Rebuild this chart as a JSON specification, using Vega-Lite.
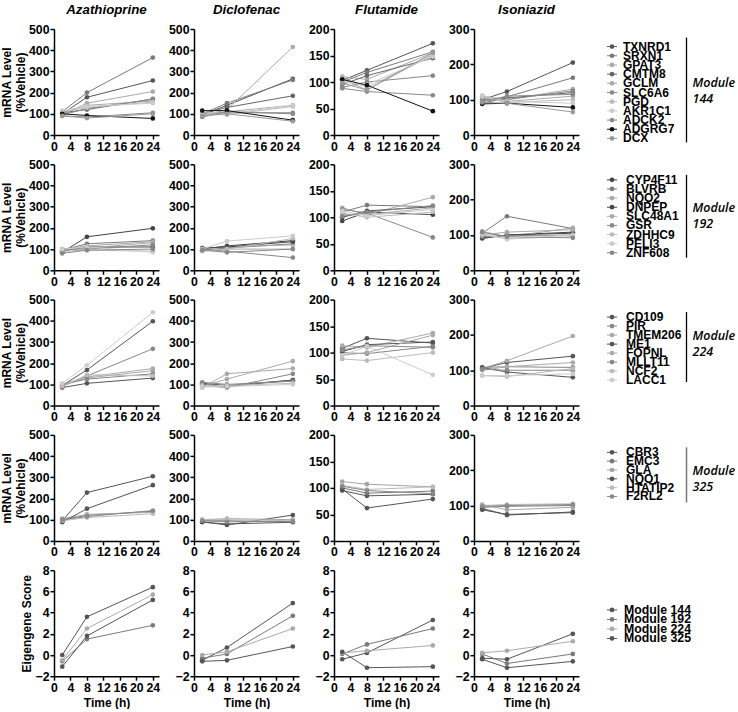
{
"$schema":"https://vega.github.io/schema/vega-lite/v6.json",
"padding":{"left":0,"top":2,"right":0,"bottom":0},
"datasets":{
"times":[{"k":"v2","t":2},{"k":"v8","t":8},{"k":"v24","t":24}],
"expr":[
{"p":"144","d":"Azathioprine","g":"TXNRD1","v2":100,"v8":178,"v24":257},
{"p":"144","d":"Azathioprine","g":"SRXN1","v2":110,"v8":200,"v24":365},
{"p":"144","d":"Azathioprine","g":"GPAT3","v2":95,"v8":150,"v24":205},
{"p":"144","d":"Azathioprine","g":"CMTM8","v2":105,"v8":120,"v24":170},
{"p":"144","d":"Azathioprine","g":"GCLM","v2":100,"v8":140,"v24":160},
{"p":"144","d":"Azathioprine","g":"SLC6A6","v2":95,"v8":125,"v24":168},
{"p":"144","d":"Azathioprine","g":"PGD","v2":110,"v8":130,"v24":155},
{"p":"144","d":"Azathioprine","g":"AKR1C1","v2":115,"v8":135,"v24":150},
{"p":"144","d":"Azathioprine","g":"ADCK2","v2":90,"v8":85,"v24":105},
{"p":"144","d":"Azathioprine","g":"ADGRG7","v2":100,"v8":92,"v24":78},
{"p":"144","d":"Azathioprine","g":"DCX","v2":90,"v8":80,"v24":100},
{"p":"144","d":"Diclofenac","g":"TXNRD1","v2":95,"v8":140,"v24":265},
{"p":"144","d":"Diclofenac","g":"SRXN1","v2":100,"v8":150,"v24":260},
{"p":"144","d":"Diclofenac","g":"GPAT3","v2":90,"v8":120,"v24":415},
{"p":"144","d":"Diclofenac","g":"CMTM8","v2":100,"v8":130,"v24":185},
{"p":"144","d":"Diclofenac","g":"GCLM","v2":95,"v8":110,"v24":140},
{"p":"144","d":"Diclofenac","g":"SLC6A6","v2":105,"v8":105,"v24":105},
{"p":"144","d":"Diclofenac","g":"PGD","v2":100,"v8":95,"v24":135},
{"p":"144","d":"Diclofenac","g":"AKR1C1","v2":110,"v8":100,"v24":140},
{"p":"144","d":"Diclofenac","g":"ADCK2","v2":85,"v8":110,"v24":100},
{"p":"144","d":"Diclofenac","g":"ADGRG7","v2":115,"v8":115,"v24":70},
{"p":"144","d":"Diclofenac","g":"DCX","v2":90,"v8":100,"v24":65},
{"p":"144","d":"Flutamide","g":"TXNRD1","v2":103,"v8":122,"v24":173},
{"p":"144","d":"Flutamide","g":"SRXN1","v2":100,"v8":118,"v24":157},
{"p":"144","d":"Flutamide","g":"GPAT3","v2":110,"v8":105,"v24":155},
{"p":"144","d":"Flutamide","g":"CMTM8","v2":95,"v8":112,"v24":145},
{"p":"144","d":"Flutamide","g":"GCLM","v2":105,"v8":85,"v24":152},
{"p":"144","d":"Flutamide","g":"SLC6A6","v2":90,"v8":100,"v24":112},
{"p":"144","d":"Flutamide","g":"PGD","v2":108,"v8":90,"v24":150},
{"p":"144","d":"Flutamide","g":"AKR1C1","v2":100,"v8":95,"v24":148},
{"p":"144","d":"Flutamide","g":"ADCK2","v2":88,"v8":82,"v24":75},
{"p":"144","d":"Flutamide","g":"ADGRG7","v2":105,"v8":94,"v24":45},
{"p":"144","d":"Flutamide","g":"DCX","v2":98,"v8":85,"v24":155},
{"p":"144","d":"Isoniazid","g":"TXNRD1","v2":100,"v8":123,"v24":205},
{"p":"144","d":"Isoniazid","g":"SRXN1","v2":95,"v8":108,"v24":162},
{"p":"144","d":"Isoniazid","g":"GPAT3","v2":110,"v8":100,"v24":130},
{"p":"144","d":"Isoniazid","g":"CMTM8","v2":90,"v8":105,"v24":120},
{"p":"144","d":"Isoniazid","g":"GCLM","v2":105,"v8":95,"v24":110},
{"p":"144","d":"Isoniazid","g":"SLC6A6","v2":100,"v8":100,"v24":125},
{"p":"144","d":"Isoniazid","g":"PGD","v2":108,"v8":92,"v24":100},
{"p":"144","d":"Isoniazid","g":"AKR1C1","v2":112,"v8":95,"v24":90},
{"p":"144","d":"Isoniazid","g":"ADCK2","v2":95,"v8":110,"v24":115},
{"p":"144","d":"Isoniazid","g":"ADGRG7","v2":88,"v8":90,"v24":78},
{"p":"144","d":"Isoniazid","g":"DCX","v2":92,"v8":90,"v24":65},
{"p":"192","d":"Azathioprine","g":"CYP4F11","v2":85,"v8":158,"v24":198},
{"p":"192","d":"Azathioprine","g":"BLVRB","v2":95,"v8":125,"v24":140},
{"p":"192","d":"Azathioprine","g":"NQO2","v2":100,"v8":115,"v24":135},
{"p":"192","d":"Azathioprine","g":"DNPEP","v2":90,"v8":110,"v24":110},
{"p":"192","d":"Azathioprine","g":"SLC48A1","v2":95,"v8":105,"v24":130},
{"p":"192","d":"Azathioprine","g":"GSR","v2":100,"v8":100,"v24":120},
{"p":"192","d":"Azathioprine","g":"ZDHHC9","v2":90,"v8":95,"v24":90},
{"p":"192","d":"Azathioprine","g":"PELI3","v2":100,"v8":110,"v24":85},
{"p":"192","d":"Azathioprine","g":"ZNF608","v2":80,"v8":95,"v24":100},
{"p":"192","d":"Diclofenac","g":"CYP4F11","v2":100,"v8":115,"v24":140},
{"p":"192","d":"Diclofenac","g":"BLVRB","v2":95,"v8":105,"v24":125},
{"p":"192","d":"Diclofenac","g":"NQO2","v2":100,"v8":110,"v24":120},
{"p":"192","d":"Diclofenac","g":"DNPEP","v2":105,"v8":110,"v24":135},
{"p":"192","d":"Diclofenac","g":"SLC48A1","v2":95,"v8":100,"v24":100},
{"p":"192","d":"Diclofenac","g":"GSR","v2":100,"v8":90,"v24":60},
{"p":"192","d":"Diclofenac","g":"ZDHHC9","v2":90,"v8":100,"v24":150},
{"p":"192","d":"Diclofenac","g":"PELI3","v2":100,"v8":138,"v24":162},
{"p":"192","d":"Diclofenac","g":"ZNF608","v2":95,"v8":85,"v24":100},
{"p":"192","d":"Flutamide","g":"CYP4F11","v2":93,"v8":110,"v24":105},
{"p":"192","d":"Flutamide","g":"BLVRB","v2":110,"v8":123,"v24":120},
{"p":"192","d":"Flutamide","g":"NQO2","v2":118,"v8":105,"v24":138},
{"p":"192","d":"Flutamide","g":"DNPEP","v2":100,"v8":112,"v24":120},
{"p":"192","d":"Flutamide","g":"SLC48A1","v2":105,"v8":105,"v24":118},
{"p":"192","d":"Flutamide","g":"GSR","v2":115,"v8":108,"v24":62},
{"p":"192","d":"Flutamide","g":"ZDHHC9","v2":108,"v8":100,"v24":110},
{"p":"192","d":"Flutamide","g":"PELI3","v2":112,"v8":103,"v24":115},
{"p":"192","d":"Flutamide","g":"ZNF608","v2":102,"v8":110,"v24":122},
{"p":"192","d":"Isoniazid","g":"CYP4F11","v2":90,"v8":100,"v24":108},
{"p":"192","d":"Isoniazid","g":"BLVRB","v2":105,"v8":153,"v24":118},
{"p":"192","d":"Isoniazid","g":"NQO2","v2":110,"v8":95,"v24":120},
{"p":"192","d":"Isoniazid","g":"DNPEP","v2":92,"v8":100,"v24":105},
{"p":"192","d":"Isoniazid","g":"SLC48A1","v2":100,"v8":108,"v24":115},
{"p":"192","d":"Isoniazid","g":"GSR","v2":95,"v8":98,"v24":100},
{"p":"192","d":"Isoniazid","g":"ZDHHC9","v2":100,"v8":90,"v24":95},
{"p":"192","d":"Isoniazid","g":"PELI3","v2":105,"v8":88,"v24":100},
{"p":"192","d":"Isoniazid","g":"ZNF608","v2":108,"v8":95,"v24":92},
{"p":"224","d":"Azathioprine","g":"CD109","v2":95,"v8":168,"v24":398},
{"p":"224","d":"Azathioprine","g":"PIR","v2":90,"v8":140,"v24":268},
{"p":"224","d":"Azathioprine","g":"TMEM206","v2":100,"v8":135,"v24":175},
{"p":"224","d":"Azathioprine","g":"ME1","v2":85,"v8":105,"v24":130},
{"p":"224","d":"Azathioprine","g":"FOPNL","v2":95,"v8":130,"v24":165},
{"p":"224","d":"Azathioprine","g":"MLLT11","v2":100,"v8":125,"v24":150},
{"p":"224","d":"Azathioprine","g":"NCF2","v2":90,"v8":145,"v24":140},
{"p":"224","d":"Azathioprine","g":"LACC1","v2":105,"v8":190,"v24":440},
{"p":"224","d":"Diclofenac","g":"CD109","v2":105,"v8":95,"v24":120},
{"p":"224","d":"Diclofenac","g":"PIR","v2":95,"v8":85,"v24":150},
{"p":"224","d":"Diclofenac","g":"TMEM206","v2":90,"v8":125,"v24":210},
{"p":"224","d":"Diclofenac","g":"ME1","v2":100,"v8":90,"v24":120},
{"p":"224","d":"Diclofenac","g":"FOPNL","v2":85,"v8":150,"v24":175},
{"p":"224","d":"Diclofenac","g":"MLLT11","v2":110,"v8":100,"v24":115},
{"p":"224","d":"Diclofenac","g":"NCF2","v2":95,"v8":95,"v24":105},
{"p":"224","d":"Diclofenac","g":"LACC1","v2":88,"v8":90,"v24":100},
{"p":"224","d":"Flutamide","g":"CD109","v2":108,"v8":127,"v24":118},
{"p":"224","d":"Flutamide","g":"PIR","v2":100,"v8":98,"v24":112},
{"p":"224","d":"Flutamide","g":"TMEM206","v2":113,"v8":110,"v24":137},
{"p":"224","d":"Flutamide","g":"ME1","v2":102,"v8":115,"v24":120},
{"p":"224","d":"Flutamide","g":"FOPNL","v2":95,"v8":100,"v24":133},
{"p":"224","d":"Flutamide","g":"MLLT11","v2":105,"v8":113,"v24":110},
{"p":"224","d":"Flutamide","g":"NCF2","v2":88,"v8":85,"v24":100},
{"p":"224","d":"Flutamide","g":"LACC1","v2":95,"v8":112,"v24":58},
{"p":"224","d":"Isoniazid","g":"CD109","v2":105,"v8":122,"v24":140},
{"p":"224","d":"Isoniazid","g":"PIR","v2":108,"v8":110,"v24":108},
{"p":"224","d":"Isoniazid","g":"TMEM206","v2":105,"v8":127,"v24":197},
{"p":"224","d":"Isoniazid","g":"ME1","v2":108,"v8":95,"v24":80},
{"p":"224","d":"Isoniazid","g":"FOPNL","v2":100,"v8":110,"v24":122},
{"p":"224","d":"Isoniazid","g":"MLLT11","v2":103,"v8":100,"v24":100},
{"p":"224","d":"Isoniazid","g":"NCF2","v2":85,"v8":82,"v24":105},
{"p":"224","d":"Isoniazid","g":"LACC1","v2":85,"v8":85,"v24":90},
{"p":"325","d":"Azathioprine","g":"CBR3","v2":95,"v8":228,"v24":305},
{"p":"325","d":"Azathioprine","g":"EMC3","v2":100,"v8":120,"v24":140},
{"p":"325","d":"Azathioprine","g":"GLA","v2":105,"v8":125,"v24":135},
{"p":"325","d":"Azathioprine","g":"NQO1","v2":88,"v8":152,"v24":263},
{"p":"325","d":"Azathioprine","g":"HTATIP2","v2":95,"v8":110,"v24":128},
{"p":"325","d":"Azathioprine","g":"F2RL2","v2":100,"v8":115,"v24":143},
{"p":"325","d":"Diclofenac","g":"CBR3","v2":90,"v8":75,"v24":122},
{"p":"325","d":"Diclofenac","g":"EMC3","v2":95,"v8":95,"v24":90},
{"p":"325","d":"Diclofenac","g":"GLA","v2":100,"v8":105,"v24":100},
{"p":"325","d":"Diclofenac","g":"NQO1","v2":88,"v8":80,"v24":88},
{"p":"325","d":"Diclofenac","g":"HTATIP2","v2":100,"v8":100,"v24":95},
{"p":"325","d":"Diclofenac","g":"F2RL2","v2":95,"v8":90,"v24":92},
{"p":"325","d":"Flutamide","g":"CBR3","v2":95,"v8":85,"v24":88},
{"p":"325","d":"Flutamide","g":"EMC3","v2":100,"v8":90,"v24":94},
{"p":"325","d":"Flutamide","g":"GLA","v2":112,"v8":107,"v24":102},
{"p":"325","d":"Flutamide","g":"NQO1","v2":98,"v8":62,"v24":79},
{"p":"325","d":"Flutamide","g":"HTATIP2","v2":105,"v8":97,"v24":102},
{"p":"325","d":"Flutamide","g":"F2RL2","v2":103,"v8":95,"v24":89},
{"p":"325","d":"Isoniazid","g":"CBR3","v2":88,"v8":75,"v24":80},
{"p":"325","d":"Isoniazid","g":"EMC3","v2":95,"v8":98,"v24":100},
{"p":"325","d":"Isoniazid","g":"GLA","v2":103,"v8":88,"v24":95},
{"p":"325","d":"Isoniazid","g":"NQO1","v2":92,"v8":73,"v24":82},
{"p":"325","d":"Isoniazid","g":"HTATIP2","v2":100,"v8":103,"v24":105},
{"p":"325","d":"Isoniazid","g":"F2RL2","v2":98,"v8":100,"v24":103},
{"p":"E","d":"Azathioprine","g":"Module 144","v2":0,"v8":3.6,"v24":6.4},
{"p":"E","d":"Azathioprine","g":"Module 192","v2":-0.6,"v8":1.5,"v24":2.8},
{"p":"E","d":"Azathioprine","g":"Module 224","v2":-0.5,"v8":2.5,"v24":5.7},
{"p":"E","d":"Azathioprine","g":"Module 325","v2":-1.1,"v8":1.8,"v24":5.2},
{"p":"E","d":"Diclofenac","g":"Module 144","v2":-0.5,"v8":0.7,"v24":4.9},
{"p":"E","d":"Diclofenac","g":"Module 192","v2":-0.3,"v8":0.1,"v24":3.7},
{"p":"E","d":"Diclofenac","g":"Module 224","v2":0.0,"v8":0.3,"v24":2.5},
{"p":"E","d":"Diclofenac","g":"Module 325","v2":-0.6,"v8":-0.5,"v24":0.8},
{"p":"E","d":"Flutamide","g":"Module 144","v2":-0.4,"v8":0.2,"v24":3.3},
{"p":"E","d":"Flutamide","g":"Module 192","v2":0.1,"v8":1.0,"v24":2.5},
{"p":"E","d":"Flutamide","g":"Module 224","v2":0.2,"v8":0.4,"v24":0.9},
{"p":"E","d":"Flutamide","g":"Module 325","v2":0.3,"v8":-1.2,"v24":-1.1},
{"p":"E","d":"Isoniazid","g":"Module 144","v2":-0.3,"v8":-0.4,"v24":2.0},
{"p":"E","d":"Isoniazid","g":"Module 192","v2":0.1,"v8":-0.8,"v24":0.1},
{"p":"E","d":"Isoniazid","g":"Module 224","v2":0.2,"v8":0.4,"v24":1.3},
{"p":"E","d":"Isoniazid","g":"Module 325","v2":-0.4,"v8":-1.2,"v24":-0.6}
]},
"data":{"name":"expr"},
"transform":[
{"fold":["v2","v8","v24"],"as":["k","v"]},
{"lookup":"k","from":{"data":{"name":"times"},"key":"k","fields":["t"]}}
],
"columns":5,
"spacing":{"row":29.3,"column":35},
"bounds":"flush",
"concat":[
{"width":105,"height":106,"title":"Azathioprine","transform":[{"filter":"datum.p=='144' && datum.d=='Azathioprine'"}],
"encoding":{"x":{"field":"t","type":"quantitative","scale":{"domain":[0,25.5],"nice":false},"axis":{"values":[0,4,8,12,16,20,24],"title":null}},
"y":{"field":"v","type":"quantitative","scale":{"domain":[0,500],"nice":false},"axis":{"values":[0,100,200,300,400,500],"title":["mRNA Level","(%Vehicle)"]}},
"color":{"field":"g","type":"nominal"}},
"layer":[{"mark":"line"},{"mark":"point"},
{"data":{"values":[{"u":1}]},"mark":{"type":"rule","strokeWidth":1.6},"encoding":{"x":{"datum":0},"x2":{"datum":26},"y":{"datum":566},"color":{"value":"#000000"}}}]},
{"width":105,"height":106,"title":"Diclofenac","transform":[{"filter":"datum.p=='144' && datum.d=='Diclofenac'"}],
"encoding":{"x":{"field":"t","type":"quantitative","scale":{"domain":[0,25.5],"nice":false},"axis":{"values":[0,4,8,12,16,20,24],"title":null}},
"y":{"field":"v","type":"quantitative","scale":{"domain":[0,500],"nice":false},"axis":{"values":[0,100,200,300,400,500],"title":null}},
"color":{"field":"g","type":"nominal"}},
"layer":[{"mark":"line"},{"mark":"point"},
{"data":{"values":[{"u":1}]},"mark":{"type":"rule","strokeWidth":1.6},"encoding":{"x":{"datum":0},"x2":{"datum":26},"y":{"datum":566},"color":{"value":"#000000"}}}]},
{"width":105,"height":106,"title":"Flutamide","transform":[{"filter":"datum.p=='144' && datum.d=='Flutamide'"}],
"encoding":{"x":{"field":"t","type":"quantitative","scale":{"domain":[0,25.5],"nice":false},"axis":{"values":[0,4,8,12,16,20,24],"title":null}},
"y":{"field":"v","type":"quantitative","scale":{"domain":[0,200],"nice":false},"axis":{"values":[0,50,100,150,200],"title":null}},
"color":{"field":"g","type":"nominal"}},
"layer":[{"mark":"line"},{"mark":"point"},
{"data":{"values":[{"u":1}]},"mark":{"type":"rule","strokeWidth":1.6},"encoding":{"x":{"datum":0},"x2":{"datum":26},"y":{"datum":226.4},"color":{"value":"#000000"}}}]},
{"width":105,"height":106,"title":"Isoniazid","transform":[{"filter":"datum.p=='144' && datum.d=='Isoniazid'"}],
"encoding":{"x":{"field":"t","type":"quantitative","scale":{"domain":[0,25.5],"nice":false},"axis":{"values":[0,4,8,12,16,20,24],"title":null}},
"y":{"field":"v","type":"quantitative","scale":{"domain":[0,300],"nice":false},"axis":{"values":[0,100,200,300],"title":null}},
"color":{"field":"g","type":"nominal"}},
"layer":[{"mark":"line"},{"mark":"point"},
{"data":{"values":[{"u":1}]},"mark":{"type":"rule","strokeWidth":1.6},"encoding":{"x":{"datum":0},"x2":{"datum":26},"y":{"datum":339.6},"color":{"value":"#808080"}}}]},
{"width":124,"height":106,"transform":[{"filter":"datum.p=='144' && datum.d=='Azathioprine' && datum.t==2"}],
"layer":[
{"mark":{"type":"rule","strokeWidth":1},"encoding":{"x":{"datum":-0.7,"type":"quantitative","scale":{"domain":[0,12.4],"nice":false,"zero":false},"axis":null},"x2":{"datum":0.3},"y":{"field":"g","type":"ordinal","scale":{"type":"point","domain":["TXNRD1","SRXN1","GPAT3","CMTM8","GCLM","SLC6A6","PGD","AKR1C1","ADCK2","ADGRG7","DCX"],"range":[13,114]},"axis":null},"color":{"field":"g","type":"nominal"}}},
{"mark":"point","encoding":{"x":{"datum":-0.2,"type":"quantitative","scale":{"domain":[0,12.4],"nice":false,"zero":false},"axis":null},"y":{"field":"g","type":"ordinal","scale":{"type":"point","domain":["TXNRD1","SRXN1","GPAT3","CMTM8","GCLM","SLC6A6","PGD","AKR1C1","ADCK2","ADGRG7","DCX"],"range":[13,114]},"axis":null},"color":{"field":"g","type":"nominal"}}},
{"mark":{"type":"text","align":"left","baseline":"middle","font":"Liberation Sans","fontSize":12,"fontWeight":"bold","color":"#000000"},"encoding":{"x":{"datum":0.9,"type":"quantitative","scale":{"domain":[0,12.4],"nice":false,"zero":false},"axis":null},"y":{"field":"g","type":"ordinal","scale":{"type":"point","domain":["TXNRD1","SRXN1","GPAT3","CMTM8","GCLM","SLC6A6","PGD","AKR1C1","ADCK2","ADGRG7","DCX"],"range":[13,114]},"axis":null},"text":{"field":"g"}}},
{"transform":[{"filter":"datum.g=='TXNRD1'"}],"mark":{"type":"rule","color":"#000000","strokeWidth":1.3,"yOffset":-9,"y2Offset":4},"encoding":{"x":{"datum":7.25,"type":"quantitative","scale":{"domain":[0,12.4],"nice":false,"zero":false},"axis":null},"y":{"field":"g","type":"ordinal","scale":{"type":"point","domain":["TXNRD1","SRXN1","GPAT3","CMTM8","GCLM","SLC6A6","PGD","AKR1C1","ADCK2","ADGRG7","DCX"],"range":[13,114]},"axis":null},"y2":{"datum":"DCX"}}},
{"transform":[{"filter":"datum.g=='TXNRD1'"}],"mark":{"type":"text","align":"left","baseline":"middle","font":"Open Sans","fontStyle":"italic","fontWeight":600,"fontSize":12.5,"lineHeight":16,"color":"#000000","dy":-9.5},"encoding":{"x":{"datum":7.85,"type":"quantitative","scale":{"domain":[0,12.4],"nice":false,"zero":false},"axis":null},"y":{"datum":"SLC6A6","type":"ordinal","scale":{"type":"point","domain":["TXNRD1","SRXN1","GPAT3","CMTM8","GCLM","SLC6A6","PGD","AKR1C1","ADCK2","ADGRG7","DCX"],"range":[13,114]},"axis":null},"text":{"value":["Module","144"]}}}
]},

{"width":105,"height":106,"transform":[{"filter":"datum.p=='192' && datum.d=='Azathioprine'"}],
"encoding":{"x":{"field":"t","type":"quantitative","scale":{"domain":[0,25.5],"nice":false},"axis":{"values":[0,4,8,12,16,20,24],"title":null}},
"y":{"field":"v","type":"quantitative","scale":{"domain":[0,500],"nice":false},"axis":{"values":[0,100,200,300,400,500],"title":["mRNA Level","(%Vehicle)"]}},
"color":{"field":"g","type":"nominal"}},
"layer":[{"mark":"line"},{"mark":"point"}]},
{"width":105,"height":106,"transform":[{"filter":"datum.p=='192' && datum.d=='Diclofenac'"}],
"encoding":{"x":{"field":"t","type":"quantitative","scale":{"domain":[0,25.5],"nice":false},"axis":{"values":[0,4,8,12,16,20,24],"title":null}},
"y":{"field":"v","type":"quantitative","scale":{"domain":[0,500],"nice":false},"axis":{"values":[0,100,200,300,400,500],"title":null}},
"color":{"field":"g","type":"nominal"}},
"layer":[{"mark":"line"},{"mark":"point"}]},
{"width":105,"height":106,"transform":[{"filter":"datum.p=='192' && datum.d=='Flutamide'"}],
"encoding":{"x":{"field":"t","type":"quantitative","scale":{"domain":[0,25.5],"nice":false},"axis":{"values":[0,4,8,12,16,20,24],"title":null}},
"y":{"field":"v","type":"quantitative","scale":{"domain":[0,200],"nice":false},"axis":{"values":[0,50,100,150,200],"title":null}},
"color":{"field":"g","type":"nominal"}},
"layer":[{"mark":"line"},{"mark":"point"}]},
{"width":105,"height":106,"transform":[{"filter":"datum.p=='192' && datum.d=='Isoniazid'"}],
"encoding":{"x":{"field":"t","type":"quantitative","scale":{"domain":[0,25.5],"nice":false},"axis":{"values":[0,4,8,12,16,20,24],"title":null}},
"y":{"field":"v","type":"quantitative","scale":{"domain":[0,300],"nice":false},"axis":{"values":[0,100,200,300],"title":null}},
"color":{"field":"g","type":"nominal"}},
"layer":[{"mark":"line"},{"mark":"point"}]},
{"width":124,"height":106,"transform":[{"filter":"datum.p=='192' && datum.d=='Azathioprine' && datum.t==2"}],
"layer":[
{"mark":{"type":"rule","strokeWidth":1},"encoding":{"x":{"datum":-0.7,"type":"quantitative","scale":{"domain":[0,12.4],"nice":false,"zero":false},"axis":null},"x2":{"datum":0.3},"y":{"field":"g","type":"ordinal","scale":{"type":"point","domain":["CYP4F11","BLVRB","NQO2","DNPEP","SLC48A1","GSR","ZDHHC9","PELI3","ZNF608"],"range":[11,93]},"axis":null},"color":{"field":"g","type":"nominal"}}},
{"mark":"point","encoding":{"x":{"datum":-0.2,"type":"quantitative","scale":{"domain":[0,12.4],"nice":false,"zero":false},"axis":null},"y":{"field":"g","type":"ordinal","scale":{"type":"point","domain":["CYP4F11","BLVRB","NQO2","DNPEP","SLC48A1","GSR","ZDHHC9","PELI3","ZNF608"],"range":[11,93]},"axis":null},"color":{"field":"g","type":"nominal"}}},
{"mark":{"type":"text","align":"left","baseline":"middle","font":"Liberation Sans","fontSize":12,"fontWeight":"bold","color":"#000000"},"encoding":{"x":{"datum":1.2,"type":"quantitative","scale":{"domain":[0,12.4],"nice":false,"zero":false},"axis":null},"y":{"field":"g","type":"ordinal","scale":{"type":"point","domain":["CYP4F11","BLVRB","NQO2","DNPEP","SLC48A1","GSR","ZDHHC9","PELI3","ZNF608"],"range":[11,93]},"axis":null},"text":{"field":"g"}}},
{"transform":[{"filter":"datum.g=='CYP4F11'"}],"mark":{"type":"rule","color":"#000000","strokeWidth":1.3,"yOffset":-5,"y2Offset":5},"encoding":{"x":{"datum":7.25,"type":"quantitative","scale":{"domain":[0,12.4],"nice":false,"zero":false},"axis":null},"y":{"field":"g","type":"ordinal","scale":{"type":"point","domain":["CYP4F11","BLVRB","NQO2","DNPEP","SLC48A1","GSR","ZDHHC9","PELI3","ZNF608"],"range":[11,93]},"axis":null},"y2":{"datum":"ZNF608"}}},
{"transform":[{"filter":"datum.g=='CYP4F11'"}],"mark":{"type":"text","align":"left","baseline":"middle","font":"Open Sans","fontStyle":"italic","fontWeight":600,"fontSize":12.5,"lineHeight":16,"color":"#000000","dy":-8},"encoding":{"x":{"datum":7.85,"type":"quantitative","scale":{"domain":[0,12.4],"nice":false,"zero":false},"axis":null},"y":{"datum":"SLC48A1","type":"ordinal","scale":{"type":"point","domain":["CYP4F11","BLVRB","NQO2","DNPEP","SLC48A1","GSR","ZDHHC9","PELI3","ZNF608"],"range":[11,93]},"axis":null},"text":{"value":["Module","192"]}}}
]},

{"width":105,"height":106,"transform":[{"filter":"datum.p=='224' && datum.d=='Azathioprine'"}],
"encoding":{"x":{"field":"t","type":"quantitative","scale":{"domain":[0,25.5],"nice":false},"axis":{"values":[0,4,8,12,16,20,24],"title":null}},
"y":{"field":"v","type":"quantitative","scale":{"domain":[0,500],"nice":false},"axis":{"values":[0,100,200,300,400,500],"title":["mRNA Level","(%Vehicle)"]}},
"color":{"field":"g","type":"nominal"}},
"layer":[{"mark":"line"},{"mark":"point"}]},
{"width":105,"height":106,"transform":[{"filter":"datum.p=='224' && datum.d=='Diclofenac'"}],
"encoding":{"x":{"field":"t","type":"quantitative","scale":{"domain":[0,25.5],"nice":false},"axis":{"values":[0,4,8,12,16,20,24],"title":null}},
"y":{"field":"v","type":"quantitative","scale":{"domain":[0,500],"nice":false},"axis":{"values":[0,100,200,300,400,500],"title":null}},
"color":{"field":"g","type":"nominal"}},
"layer":[{"mark":"line"},{"mark":"point"}]},
{"width":105,"height":106,"transform":[{"filter":"datum.p=='224' && datum.d=='Flutamide'"}],
"encoding":{"x":{"field":"t","type":"quantitative","scale":{"domain":[0,25.5],"nice":false},"axis":{"values":[0,4,8,12,16,20,24],"title":null}},
"y":{"field":"v","type":"quantitative","scale":{"domain":[0,200],"nice":false},"axis":{"values":[0,50,100,150,200],"title":null}},
"color":{"field":"g","type":"nominal"}},
"layer":[{"mark":"line"},{"mark":"point"}]},
{"width":105,"height":106,"transform":[{"filter":"datum.p=='224' && datum.d=='Isoniazid'"}],
"encoding":{"x":{"field":"t","type":"quantitative","scale":{"domain":[0,25.5],"nice":false},"axis":{"values":[0,4,8,12,16,20,24],"title":null}},
"y":{"field":"v","type":"quantitative","scale":{"domain":[0,300],"nice":false},"axis":{"values":[0,100,200,300],"title":null}},
"color":{"field":"g","type":"nominal"}},
"layer":[{"mark":"line"},{"mark":"point"}]},
{"width":124,"height":106,"transform":[{"filter":"datum.p=='224' && datum.d=='Azathioprine' && datum.t==2"}],
"layer":[
{"mark":{"type":"rule","strokeWidth":1},"encoding":{"x":{"datum":-0.7,"type":"quantitative","scale":{"domain":[0,12.4],"nice":false,"zero":false},"axis":null},"x2":{"datum":0.3},"y":{"field":"g","type":"ordinal","scale":{"type":"point","domain":["CD109","PIR","TMEM206","ME1","FOPNL","MLLT11","NCF2","LACC1"],"range":[13,85]},"axis":null},"color":{"field":"g","type":"nominal"}}},
{"mark":"point","encoding":{"x":{"datum":-0.2,"type":"quantitative","scale":{"domain":[0,12.4],"nice":false,"zero":false},"axis":null},"y":{"field":"g","type":"ordinal","scale":{"type":"point","domain":["CD109","PIR","TMEM206","ME1","FOPNL","MLLT11","NCF2","LACC1"],"range":[13,85]},"axis":null},"color":{"field":"g","type":"nominal"}}},
{"mark":{"type":"text","align":"left","baseline":"middle","font":"Liberation Sans","fontSize":12,"fontWeight":"bold","color":"#000000"},"encoding":{"x":{"datum":1.2,"type":"quantitative","scale":{"domain":[0,12.4],"nice":false,"zero":false},"axis":null},"y":{"field":"g","type":"ordinal","scale":{"type":"point","domain":["CD109","PIR","TMEM206","ME1","FOPNL","MLLT11","NCF2","LACC1"],"range":[13,85]},"axis":null},"text":{"field":"g"}}},
{"transform":[{"filter":"datum.g=='CD109'"}],"mark":{"type":"rule","color":"#000000","strokeWidth":1.3,"yOffset":-5,"y2Offset":2},"encoding":{"x":{"datum":7.25,"type":"quantitative","scale":{"domain":[0,12.4],"nice":false,"zero":false},"axis":null},"y":{"field":"g","type":"ordinal","scale":{"type":"point","domain":["CD109","PIR","TMEM206","ME1","FOPNL","MLLT11","NCF2","LACC1"],"range":[13,85]},"axis":null},"y2":{"datum":"LACC1"}}},
{"transform":[{"filter":"datum.g=='CD109'"}],"mark":{"type":"text","align":"left","baseline":"middle","font":"Open Sans","fontStyle":"italic","fontWeight":600,"fontSize":12.5,"lineHeight":16,"color":"#000000","dy":-8},"encoding":{"x":{"datum":7.85,"type":"quantitative","scale":{"domain":[0,12.4],"nice":false,"zero":false},"axis":null},"y":{"datum":"ME1","type":"ordinal","scale":{"type":"point","domain":["CD109","PIR","TMEM206","ME1","FOPNL","MLLT11","NCF2","LACC1"],"range":[13,85]},"axis":null},"text":{"value":["Module","224"]}}}
]},

{"width":105,"height":106,"transform":[{"filter":"datum.p=='325' && datum.d=='Azathioprine'"}],
"encoding":{"x":{"field":"t","type":"quantitative","scale":{"domain":[0,25.5],"nice":false},"axis":{"values":[0,4,8,12,16,20,24],"title":null}},
"y":{"field":"v","type":"quantitative","scale":{"domain":[0,500],"nice":false},"axis":{"values":[0,100,200,300,400,500],"title":["mRNA Level","(%Vehicle)"]}},
"color":{"field":"g","type":"nominal"}},
"layer":[{"mark":"line"},{"mark":"point"}]},
{"width":105,"height":106,"transform":[{"filter":"datum.p=='325' && datum.d=='Diclofenac'"}],
"encoding":{"x":{"field":"t","type":"quantitative","scale":{"domain":[0,25.5],"nice":false},"axis":{"values":[0,4,8,12,16,20,24],"title":null}},
"y":{"field":"v","type":"quantitative","scale":{"domain":[0,500],"nice":false},"axis":{"values":[0,100,200,300,400,500],"title":null}},
"color":{"field":"g","type":"nominal"}},
"layer":[{"mark":"line"},{"mark":"point"}]},
{"width":105,"height":106,"transform":[{"filter":"datum.p=='325' && datum.d=='Flutamide'"}],
"encoding":{"x":{"field":"t","type":"quantitative","scale":{"domain":[0,25.5],"nice":false},"axis":{"values":[0,4,8,12,16,20,24],"title":null}},
"y":{"field":"v","type":"quantitative","scale":{"domain":[0,200],"nice":false},"axis":{"values":[0,50,100,150,200],"title":null}},
"color":{"field":"g","type":"nominal"}},
"layer":[{"mark":"line"},{"mark":"point"}]},
{"width":105,"height":106,"transform":[{"filter":"datum.p=='325' && datum.d=='Isoniazid'"}],
"encoding":{"x":{"field":"t","type":"quantitative","scale":{"domain":[0,25.5],"nice":false},"axis":{"values":[0,4,8,12,16,20,24],"title":null}},
"y":{"field":"v","type":"quantitative","scale":{"domain":[0,300],"nice":false},"axis":{"values":[0,100,200,300],"title":null}},
"color":{"field":"g","type":"nominal"}},
"layer":[{"mark":"line"},{"mark":"point"}]},
{"width":124,"height":106,"transform":[{"filter":"datum.p=='325' && datum.d=='Azathioprine' && datum.t==2"}],
"layer":[
{"mark":{"type":"rule","strokeWidth":1},"encoding":{"x":{"datum":-0.7,"type":"quantitative","scale":{"domain":[0,12.4],"nice":false,"zero":false},"axis":null},"x2":{"datum":0.3},"y":{"field":"g","type":"ordinal","scale":{"type":"point","domain":["CBR3","EMC3","GLA","NQO1","HTATIP2","F2RL2"],"range":[13,66]},"axis":null},"color":{"field":"g","type":"nominal"}}},
{"mark":"point","encoding":{"x":{"datum":-0.2,"type":"quantitative","scale":{"domain":[0,12.4],"nice":false,"zero":false},"axis":null},"y":{"field":"g","type":"ordinal","scale":{"type":"point","domain":["CBR3","EMC3","GLA","NQO1","HTATIP2","F2RL2"],"range":[13,66]},"axis":null},"color":{"field":"g","type":"nominal"}}},
{"mark":{"type":"text","align":"left","baseline":"middle","font":"Liberation Sans","fontSize":12,"fontWeight":"bold","color":"#000000"},"encoding":{"x":{"datum":1.2,"type":"quantitative","scale":{"domain":[0,12.4],"nice":false,"zero":false},"axis":null},"y":{"field":"g","type":"ordinal","scale":{"type":"point","domain":["CBR3","EMC3","GLA","NQO1","HTATIP2","F2RL2"],"range":[13,66]},"axis":null},"text":{"field":"g"}}},
{"transform":[{"filter":"datum.g=='CBR3'"}],"mark":{"type":"rule","color":"#777777","strokeWidth":1.5,"yOffset":-5,"y2Offset":6},"encoding":{"x":{"datum":7.25,"type":"quantitative","scale":{"domain":[0,12.4],"nice":false,"zero":false},"axis":null},"y":{"field":"g","type":"ordinal","scale":{"type":"point","domain":["CBR3","EMC3","GLA","NQO1","HTATIP2","F2RL2"],"range":[13,66]},"axis":null},"y2":{"datum":"F2RL2"}}},
{"transform":[{"filter":"datum.g=='CBR3'"}],"mark":{"type":"text","align":"left","baseline":"middle","font":"Open Sans","fontStyle":"italic","fontWeight":600,"fontSize":12.5,"lineHeight":16,"color":"#000000","dy":-8},"encoding":{"x":{"datum":7.85,"type":"quantitative","scale":{"domain":[0,12.4],"nice":false,"zero":false},"axis":null},"y":{"datum":"NQO1","type":"ordinal","scale":{"type":"point","domain":["CBR3","EMC3","GLA","NQO1","HTATIP2","F2RL2"],"range":[13,66]},"axis":null},"text":{"value":["Module","325"]}}}
]},

{"width":105,"height":106,"transform":[{"filter":"datum.p=='E' && datum.d=='Azathioprine'"}],
"encoding":{"x":{"field":"t","type":"quantitative","scale":{"domain":[0,25.5],"nice":false},"axis":{"values":[0,4,8,12,16,20,24],"title":"Time (h)"}},
"y":{"field":"v","type":"quantitative","scale":{"domain":[-2,8],"nice":false,"zero":false},"axis":{"values":[-2,0,2,4,6,8],"title":"Eigengene Score"}},
"color":{"field":"g","type":"nominal"}},
"layer":[{"mark":"line"},{"mark":"point"}]},
{"width":105,"height":106,"transform":[{"filter":"datum.p=='E' && datum.d=='Diclofenac'"}],
"encoding":{"x":{"field":"t","type":"quantitative","scale":{"domain":[0,25.5],"nice":false},"axis":{"values":[0,4,8,12,16,20,24],"title":"Time (h)"}},
"y":{"field":"v","type":"quantitative","scale":{"domain":[-2,8],"nice":false,"zero":false},"axis":{"values":[-2,0,2,4,6,8],"title":null}},
"color":{"field":"g","type":"nominal"}},
"layer":[{"mark":"line"},{"mark":"point"}]},
{"width":105,"height":106,"transform":[{"filter":"datum.p=='E' && datum.d=='Flutamide'"}],
"encoding":{"x":{"field":"t","type":"quantitative","scale":{"domain":[0,25.5],"nice":false},"axis":{"values":[0,4,8,12,16,20,24],"title":"Time (h)"}},
"y":{"field":"v","type":"quantitative","scale":{"domain":[-2,8],"nice":false,"zero":false},"axis":{"values":[-2,0,2,4,6,8],"title":null}},
"color":{"field":"g","type":"nominal"}},
"layer":[{"mark":"line"},{"mark":"point"}]},
{"width":105,"height":106,"transform":[{"filter":"datum.p=='E' && datum.d=='Isoniazid'"}],
"encoding":{"x":{"field":"t","type":"quantitative","scale":{"domain":[0,25.5],"nice":false},"axis":{"values":[0,4,8,12,16,20,24],"title":"Time (h)"}},
"y":{"field":"v","type":"quantitative","scale":{"domain":[-2,8],"nice":false,"zero":false},"axis":{"values":[-2,0,2,4,6,8],"title":null}},
"color":{"field":"g","type":"nominal"}},
"layer":[{"mark":"line"},{"mark":"point"}]},
{"width":124,"height":106,"transform":[{"filter":"datum.p=='E' && datum.d=='Azathioprine' && datum.t==2"}],
"layer":[
{"mark":{"type":"rule","strokeWidth":1},"encoding":{"x":{"datum":-0.7,"type":"quantitative","scale":{"domain":[0,12.4],"nice":false,"zero":false},"axis":null},"x2":{"datum":0.3},"y":{"field":"g","type":"ordinal","scale":{"type":"point","domain":["Module 144","Module 192","Module 224","Module 325"],"range":[35,73]},"axis":null},"color":{"field":"g","type":"nominal"}}},
{"mark":"point","encoding":{"x":{"datum":-0.2,"type":"quantitative","scale":{"domain":[0,12.4],"nice":false,"zero":false},"axis":null},"y":{"field":"g","type":"ordinal","scale":{"type":"point","domain":["Module 144","Module 192","Module 224","Module 325"],"range":[35,73]},"axis":null},"color":{"field":"g","type":"nominal"}}},
{"mark":{"type":"text","align":"left","baseline":"middle","font":"Liberation Sans","fontSize":12.3,"fontWeight":"bold","color":"#000000"},"encoding":{"x":{"datum":1.0,"type":"quantitative","scale":{"domain":[0,12.4],"nice":false,"zero":false},"axis":null},"y":{"field":"g","type":"ordinal","scale":{"type":"point","domain":["Module 144","Module 192","Module 224","Module 325"],"range":[35,73]},"axis":null},"text":{"field":"g"}}}
]}
],
"config":{
"font":"Liberation Sans",
"view":{"stroke":null},
"legend":{"disable":true},
"axis":{"grid":false,"domainColor":"#000000","domainWidth":1.5,"tickColor":"#000000","tickWidth":1.5,"tickSize":4,"labelFont":"Liberation Sans","labelFontSize":12.3,"labelFontWeight":"bold","labelColor":"#000000","labelPadding":1,"labelOverlap":false,"titleFont":"Liberation Sans","titleFontSize":12,"titleFontWeight":"bold","titleColor":"#000000"},
"axisX":{"labelFlush":false,"titlePadding":4},
"axisY":{"titlePadding":1},
"title":{"font":"Liberation Sans","fontSize":13.3,"fontStyle":"italic","fontWeight":"bold","color":"#000000","frame":"group","anchor":"middle","offset":7},
"line":{"strokeWidth":1},
"point":{"filled":true,"size":22,"opacity":1},
"range":{"category":["#8a8a8a","#111111","#cccccc","#7a7a7a","#555555","#555555","#666666","#444444","#999999","#484848","#7a7a7a","#8a8a8a","#aaaaaa","#aaaaaa","#a5a5a5","#aaaaaa","#888888","#bbbbbb","#cccccc","#555555","#888888","#555555","#7a7a7a","#aaaaaa","#555555","#bbbbbb","#555555","#aaaaaa","#cccccc","#bbbbbb","#888888","#aaaaaa","#888888","#7a7a7a","#aaaaaa","#555555","#bbbbbb","#888888"]}
}
}
